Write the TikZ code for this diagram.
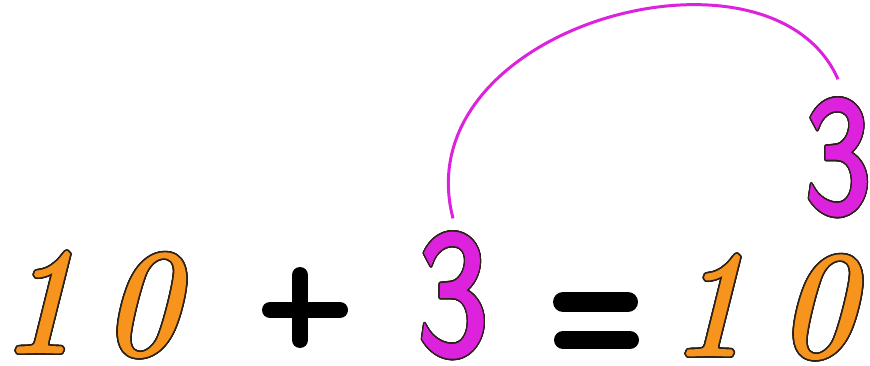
\documentclass[tikz,border=0pt]{standalone}
\usepackage{fontspec}
\usepackage{xcolor}
\usepackage{graphicx}
\usepackage{contour}
\usepackage{tikz}
\usetikzlibrary{positioning}
\newfontfamily\handdigit[FakeBold=1.6]{lmroman10-italic.otf}
\newfontfamily\handthree[FakeBold=2.2]{lmsans10-regular.otf}
\definecolor{tenorange}{HTML}{F7941D}
\definecolor{addpink}{HTML}{DD22DD}
\definecolor{inkline}{HTML}{2B2118}
\contourlength{1.6pt}
\contournumber{24}

\begin{document}
\begin{tikzpicture}[x=1pt,y=-1pt,
    digit/.style={inner sep=0pt, text=tenorange, font=\fontsize{150}{150}\handdigit},
    addend/.style={inner sep=0pt, text=addpink, font=\fontsize{176}{176}\handthree},
    brush/.style={black, line cap=round}]
    \useasboundingbox (0,0) rectangle (870,366);
    % the sum, digit by digit
    \foreach \n/\x/\y/\c in {oneL/38/303/1, zeroL/140/306/0, oneR/708/306/1, zeroR/816/308/0} {
        \node[digit] (\n) at (\x,\y) {\contour{inkline}{\c}};
    }
    \node[addend] (lowthree) at (453,296) {\scalebox{0.8}[1]{\contour{inkline}{3}}};
    \node[addend, font=\fontsize{165}{165}\handthree] (upthree) at (838,158) {\scalebox{0.8}[1]{\contour{inkline}{3}}};
    % plus and equals, drawn as brush strokes
    \draw[brush, line width=16pt] (270,310) -- (340,310);
    \draw[brush, line width=16pt] (300,275) -- (300,340);
    \draw[brush, line width=20pt] (563,302) -- (628,302);
    \draw[brush, line width=18pt] (563,340) -- (630,340);
    % the 3 moves over
    \draw[addpink, line width=3pt] ([yshift=15pt]lowthree.north) .. controls +(-50,-192) and +(-67,-153) .. ([yshift=20pt]upthree.north);
\end{tikzpicture}
\end{document}
